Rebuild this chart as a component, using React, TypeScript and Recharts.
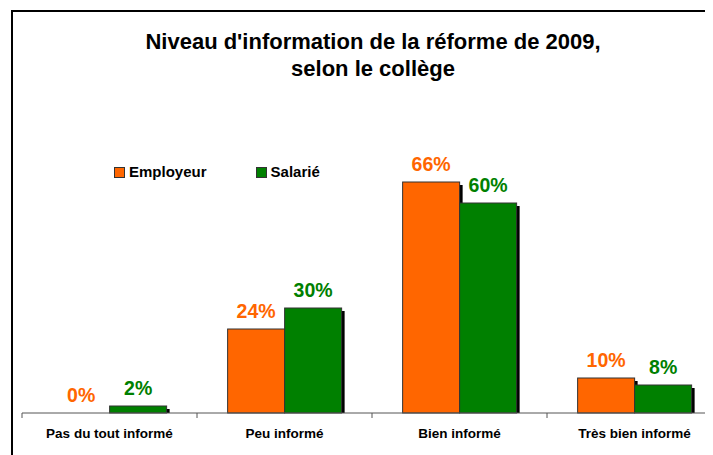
import { BarChart, Bar, XAxis, YAxis, LabelList } from "recharts"

const categories = ["Pas du tout informé", "Peu informé", "Bien informé", "Très bien informé"]
const employeur = [0, 24, 66, 10]
const salarie = [2, 30, 60, 8]
const seriesNames = ["Employeur", "Salarié"]

const ORANGE = "#FF6600"
const GREEN = "#008000"
const FONT = "'Liberation Sans', Arial, sans-serif"

const CHART_W = 740
const CHART_H = 447
const MARGIN = { top: 55, right: 26, left: 14, bottom: 0 }
const PLOT_W = CHART_W - MARGIN.left - MARGIN.right

const data = categories.map((name, i) => ({ name, employeur: employeur[i], salarie: salarie[i] }))

function ShadowBar(props: any) {
  const { x, y, width, height, fill } = props
  if (!height || height <= 0) return null
  return (
    <g>
      <rect x={x + 3} y={y + 3} width={width} height={Math.max(height - 3, 0)} fill="#000" />
      <rect x={x} y={y} width={width} height={height} fill={fill} stroke="#333" strokeWidth={1} />
    </g>
  )
}

function CategoryTick(props: any) {
  const { x, y, payload } = props
  const half = PLOT_W / (2 * categories.length)
  return (
    <g>
      <line x1={x - half} y1={y - 4} x2={x - half} y2={y + 1} stroke="#555" strokeWidth={1} />
      <text x={x} y={y + 21} textAnchor="middle" fontFamily={FONT} fontWeight="bold" fontSize={13.5} fill="#000">
        {payload.value}
      </text>
    </g>
  )
}

export default function App() {
  return (
    <div style={{ position: "relative", width: 705, height: CHART_H, overflow: "hidden", background: "#fff" }}>
      <div style={{ position: "absolute", left: 3, top: 2, width: 760, height: 600, border: "2px solid #000" }} />
      <div
        style={{
          position: "absolute", left: 0, top: 20, width: 730, textAlign: "center",
          fontFamily: FONT, fontWeight: "bold", fontSize: 22, lineHeight: "27px", color: "#000",
        }}
      >
        Niveau d'information de la réforme de 2009,<br />selon le collège
      </div>
      <div
        style={{
          position: "absolute", left: 106, top: 155, display: "flex", gap: 49,
          fontFamily: FONT, fontWeight: "bold", fontSize: 15, lineHeight: "18px", color: "#000",
        }}
      >
        {seriesNames.map((n, i) => (
          <div key={n} style={{ display: "flex", alignItems: "center" }}>
            <span style={{ width: 9, height: 9, background: i === 0 ? ORANGE : GREEN, border: "1px solid #333", marginRight: 4 }} />
            <span>{n}</span>
          </div>
        ))}
      </div>
      <div style={{ position: "absolute", left: 0, top: 0 }}>
        <BarChart width={CHART_W} height={CHART_H} data={data} margin={MARGIN} barCategoryGap="17.5%" barGap={0}>
          <XAxis
            dataKey="name"
            height={42}
            tickSize={4}
            tickMargin={0}
            tickLine={false}
            axisLine={{ stroke: "#555", strokeWidth: 1 }}
            tick={<CategoryTick />}
            interval={0}
          />
          <YAxis hide domain={[0, 100]} />
          <Bar dataKey="employeur" fill={ORANGE} shape={<ShadowBar />} isAnimationActive={false}>
            <LabelList
              dataKey="employeur"
              position="top"
              offset={11}
              formatter={(v: any) => `${v}%`}
              style={{ fontFamily: FONT, fontWeight: "bold", fontSize: 19.5, fill: ORANGE }}
            />
          </Bar>
          <Bar dataKey="salarie" fill={GREEN} shape={<ShadowBar />} isAnimationActive={false}>
            <LabelList
              dataKey="salarie"
              position="top"
              offset={11}
              formatter={(v: any) => `${v}%`}
              style={{ fontFamily: FONT, fontWeight: "bold", fontSize: 19.5, fill: GREEN }}
            />
          </Bar>
        </BarChart>
      </div>
    </div>
  )
}
